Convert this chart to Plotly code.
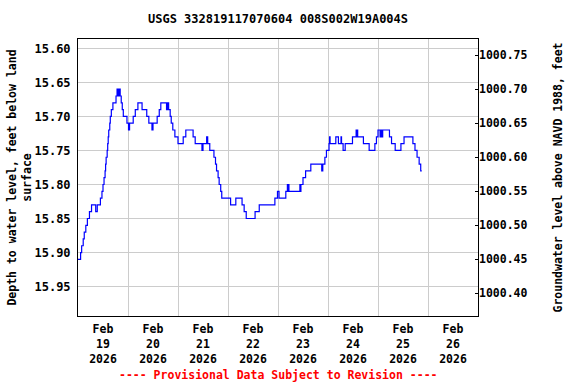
import plotly.graph_objects as go

# ---- data ----
times = [
    "2026-02-19 00:00", "2026-02-19 01:15", "2026-02-19 01:45", "2026-02-19 02:30",
    "2026-02-19 03:00", "2026-02-19 03:45", "2026-02-19 04:30", "2026-02-19 05:30",
    "2026-02-19 06:30", "2026-02-19 08:30", "2026-02-19 09:15", "2026-02-19 10:45",
    "2026-02-19 11:30", "2026-02-19 12:00", "2026-02-19 12:30", "2026-02-19 13:00",
    "2026-02-19 13:15", "2026-02-19 13:30", "2026-02-19 14:00", "2026-02-19 14:15",
    "2026-02-19 14:30", "2026-02-19 14:45", "2026-02-19 15:15", "2026-02-19 15:30",
    "2026-02-19 16:00", "2026-02-19 16:45", "2026-02-19 18:15", "2026-02-19 18:45",
    "2026-02-19 19:00", "2026-02-19 19:15", "2026-02-19 19:30", "2026-02-19 19:45",
    "2026-02-19 20:15", "2026-02-19 20:45", "2026-02-19 21:15", "2026-02-19 21:45",
    "2026-02-19 23:30", "2026-02-20 00:15", "2026-02-20 00:45", "2026-02-20 02:30",
    "2026-02-20 03:30", "2026-02-20 04:45", "2026-02-20 06:45", "2026-02-20 09:00",
    "2026-02-20 10:00", "2026-02-20 11:30", "2026-02-20 12:00", "2026-02-20 14:00",
    "2026-02-20 15:00", "2026-02-20 15:45", "2026-02-20 18:30", "2026-02-20 18:45",
    "2026-02-20 19:00", "2026-02-20 19:15", "2026-02-20 19:30", "2026-02-20 20:15",
    "2026-02-20 20:45", "2026-02-20 21:30", "2026-02-20 22:30", "2026-02-21 00:00",
    "2026-02-21 02:30", "2026-02-21 03:45", "2026-02-21 07:15", "2026-02-21 08:15",
    "2026-02-21 11:30", "2026-02-21 12:00", "2026-02-21 13:45", "2026-02-21 14:15",
    "2026-02-21 15:15", "2026-02-21 17:15", "2026-02-21 18:00", "2026-02-21 18:30",
    "2026-02-21 19:15", "2026-02-21 19:45", "2026-02-21 20:30", "2026-02-21 21:00",
    "2026-02-22 01:15", "2026-02-22 03:45", "2026-02-22 06:45", "2026-02-22 07:45",
    "2026-02-22 08:45", "2026-02-22 13:00", "2026-02-22 15:00", "2026-02-22 22:30",
    "2026-02-22 23:45", "2026-02-23 00:30", "2026-02-23 03:45", "2026-02-23 04:30",
    "2026-02-23 04:45", "2026-02-23 05:00", "2026-02-23 05:15", "2026-02-23 10:30",
    "2026-02-23 10:45", "2026-02-23 11:00", "2026-02-23 12:00", "2026-02-23 13:15",
    "2026-02-23 15:45", "2026-02-23 21:00", "2026-02-23 21:30", "2026-02-23 22:30",
    "2026-02-23 23:15", "2026-02-24 00:30", "2026-02-24 00:45", "2026-02-24 01:00",
    "2026-02-24 03:45", "2026-02-24 05:00", "2026-02-24 06:15", "2026-02-24 06:30",
    "2026-02-24 07:15", "2026-02-24 08:15", "2026-02-24 11:45", "2026-02-24 13:30",
    "2026-02-24 13:45", "2026-02-24 14:00", "2026-02-24 14:15", "2026-02-24 17:00",
    "2026-02-24 19:45", "2026-02-24 22:30", "2026-02-24 23:15", "2026-02-25 00:00",
    "2026-02-25 01:00", "2026-02-25 01:15", "2026-02-25 01:30", "2026-02-25 01:45",
    "2026-02-25 02:00", "2026-02-25 02:15", "2026-02-25 05:30", "2026-02-25 06:30",
    "2026-02-25 08:15", "2026-02-25 11:00", "2026-02-25 12:30", "2026-02-25 16:45",
    "2026-02-25 17:45", "2026-02-25 18:45", "2026-02-25 19:45", "2026-02-25 20:30",
    "2026-02-25 21:00",
]
depth_ft = [
    15.91, 15.90, 15.89, 15.88,
    15.87, 15.86, 15.85, 15.84,
    15.83, 15.84, 15.83, 15.82,
    15.81, 15.80, 15.79, 15.78,
    15.77, 15.76, 15.75, 15.74,
    15.73, 15.72, 15.71, 15.70,
    15.69, 15.68, 15.67, 15.66,
    15.67, 15.66, 15.67, 15.66,
    15.67, 15.68, 15.69, 15.70,
    15.71, 15.72, 15.71, 15.70,
    15.69, 15.68, 15.69, 15.70,
    15.71, 15.72, 15.71, 15.70,
    15.69, 15.68, 15.69, 15.68,
    15.69, 15.68, 15.69, 15.70,
    15.71, 15.72, 15.73, 15.74,
    15.73, 15.72, 15.73, 15.74,
    15.75, 15.74, 15.73, 15.74,
    15.75, 15.76, 15.77, 15.78,
    15.79, 15.80, 15.81, 15.82,
    15.83, 15.82, 15.83, 15.84,
    15.85, 15.84, 15.83, 15.82,
    15.81, 15.82, 15.81, 15.80,
    15.81, 15.80, 15.81, 15.80,
    15.81, 15.80, 15.79, 15.78,
    15.77, 15.78, 15.77, 15.76,
    15.75, 15.74, 15.73, 15.74,
    15.73, 15.74, 15.73, 15.74,
    15.75, 15.74, 15.73, 15.72,
    15.73, 15.72, 15.73, 15.74,
    15.75, 15.74, 15.73, 15.72,
    15.73, 15.72, 15.73, 15.72,
    15.73, 15.72, 15.73, 15.74,
    15.75, 15.74, 15.73, 15.74,
    15.75, 15.76, 15.77, 15.78,
    15.78,
]

DATUM_FT = 1016.36  # land surface elevation, NAVD 1988
elevation_ft = [round(DATUM_FT - d, 2) for d in depth_ft]

depth_range = [15.9932, 15.5863]  # reversed axis (top = shallow)
depth_ticks = [15.60, 15.65, 15.70, 15.75, 15.80, 15.85, 15.90, 15.95]
elev_ticks = [1000.40, 1000.45, 1000.50, 1000.55, 1000.60, 1000.65, 1000.70, 1000.75]

day_labels = ["Feb<br>19<br>2026", "Feb<br>20<br>2026", "Feb<br>21<br>2026", "Feb<br>22<br>2026",
              "Feb<br>23<br>2026", "Feb<br>24<br>2026", "Feb<br>25<br>2026", "Feb<br>26<br>2026"]
day_label_pos = ["2026-02-19 12:00", "2026-02-20 12:00", "2026-02-21 12:00", "2026-02-22 12:00",
                 "2026-02-23 12:00", "2026-02-24 12:00", "2026-02-25 12:00", "2026-02-26 12:00"]
day_grid = ["2026-02-20", "2026-02-21", "2026-02-22", "2026-02-23",
            "2026-02-24", "2026-02-25", "2026-02-26"]
x_range = ["2026-02-19 00:00", "2026-02-27 00:00"]

title_text = "USGS 332819117070604 008S002W19A004S"
left_title = "Depth to water level, feet below land<br>surface"
right_title = "Groundwater level above NAVD 1988, feet"
footer = "---- Provisional Data Subject to Revision ----"

FONT = "DejaVu Sans Mono"

fig = go.Figure()
fig.add_trace(go.Scatter(
    x=times, y=depth_ft, mode="lines", line=dict(color="#0000ff", width=1.2, shape="hv"),
    showlegend=False, hoverinfo="x+y"))
fig.add_trace(go.Scatter(
    x=times, y=elevation_ft, mode="lines", yaxis="y2",
    line=dict(color="rgba(0,0,0,0)", width=1, shape="hv"),
    showlegend=False, hoverinfo="skip"))

fig.update_layout(
    width=576, height=384,
    margin=dict(l=78, r=98, t=39, b=68, autoexpand=False),
    paper_bgcolor="white", plot_bgcolor="white",
    font=dict(family=FONT, size=12, color="black"),
    title=dict(text=title_text, x=0.5, xref="paper", xanchor="center",
               y=1 - 19 / 384, yref="container", yanchor="middle",
               font=dict(family=FONT, size=12, weight="bold")),
    xaxis=dict(
        type="date", range=x_range, automargin=False,
        tickmode="array", tickvals=day_label_pos, ticktext=day_labels,
        ticks="", showgrid=False, ticklabelstandoff=2,
        minor=dict(tickmode="array", tickvals=day_grid, showgrid=True,
                   gridcolor="#cccccc", gridwidth=1, ticks=""),
        showline=True, linecolor="black", linewidth=1, mirror=True,
        tickfont=dict(family=FONT, size=11.5, weight="bold"),
        zeroline=False,
    ),
    yaxis=dict(
        range=depth_range, automargin=False, tickmode="array", tickvals=depth_ticks,
        ticktext=[f"{v:.2f}" for v in depth_ticks],
        showgrid=True, gridcolor="#cccccc", gridwidth=1,
        showline=True, linecolor="black", linewidth=1, mirror=True,
        ticks="", zeroline=False, ticklabelstandoff=4,
        tickfont=dict(family=FONT, size=12, weight="bold"),
        title=dict(text=left_title, standoff=0,
                   font=dict(family=FONT, size=11.5, weight="bold")),
    ),
    yaxis2=dict(
        overlaying="y", side="right", automargin=False,
        range=[DATUM_FT - depth_range[0], DATUM_FT - depth_range[1]],
        tickmode="array", tickvals=elev_ticks,
        ticktext=[f"{v:.2f}" for v in elev_ticks],
        showgrid=False, zeroline=False,
        ticks="inside", ticklen=3, tickcolor="black",
        tickfont=dict(family=FONT, size=11.5, weight="bold"),
        title=dict(text=right_title, standoff=27,
                   font=dict(family=FONT, size=11.5, weight="bold")),
    ),
    annotations=[dict(
        text=footer, xref="paper", yref="paper", x=0.5, y=0,
        xanchor="center", yanchor="middle", yshift=-59, showarrow=False,
        font=dict(family=FONT, size=11.5, color="red", weight="bold"))],
)

fig.write_html("out.html", config={"displayModeBar": False},
               post_script="document.body.style.margin='0';")
